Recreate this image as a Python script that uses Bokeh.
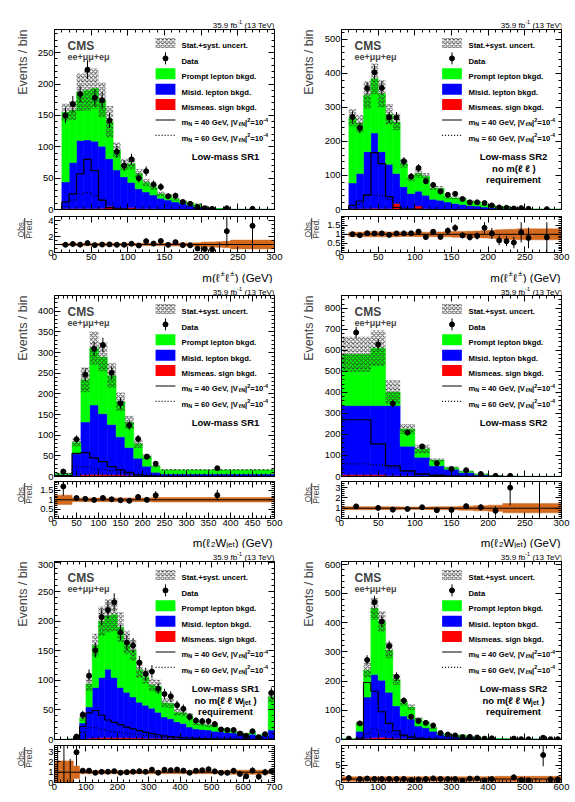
import numpy as np
from math import pi
from bokeh.plotting import figure
from bokeh.models import (Range1d, LinearAxis, Label, Span, SingleIntervalTicker,
                          FixedTicker, CustomJSTickFormatter)
from bokeh.layouts import row, column
from bokeh.embed import file_html
from bokeh.resources import INLINE

# ------------------------------------------------------------------
# m(l±l±), low-mass SR1
ll1_edges = [10, 20, 30, 40, 50, 60, 70, 80, 90, 100, 110, 120, 130, 140, 150, 160,
             170, 180, 190, 200, 210, 220, 230, 240, 300]
ll1_prompt = [111, 83, 77, 79, 84, 74, 59, 32, 20, 30, 24, 15, 13, 7, 7, 5, 3, 3, 4,
              1.5, 0.7, 0.5, 0.25, 0.1]
ll1_misid = [42.5, 73.5, 108.5, 109.5, 107.5, 99, 76, 61, 50.5, 40, 31.5, 27, 22, 17.2,
             14.4, 11.5, 9.6, 6.7, 3.8, 2.9, 1.7, 0.95, 0.45, 0.18]
ll1_mismeas = [1.5, 1.5, 1.5, 1.5, 1.5, 2, 5, 2, 1.5, 3, 1.5, 1, 1, 0.8, 0.6, 0.5, 0.4,
               0.3, 0.2, 0.1, 0.1, 0.05, 0.05, 0.02]
ll1_data = [150, 168, 184, 223, 178, 174, 142, 92, 70, 80, 50, 61, 40, 36, 21, 22, 12, 9,
            4, 2, 1, 0, 2, 1]
ll1_unc = [14, 15, 30, 32, 32, 28, 25, 12, 9, 9, 7, 6, 5, 4, 3.5, 3, 2.5, 2, 2, 1.3, 0.8,
           0.5, 0.35, 0.15]
ll1_rband = [0.12, 0.12, 0.15, 0.15, 0.15, 0.15, 0.17, 0.15, 0.15, 0.15, 0.15, 0.15,
             0.15, 0.17, 0.17, 0.18, 0.2, 0.2, 0.22, 0.3, 0.32, 0.35, 0.4, 0.55]
ll1_n40 = [12, 25, 57, 80, 62, 15, 3, 1, 0.5, 0.2, 0, 0, 0, 0, 0, 0, 0, 0, 0, 0, 0, 0, 0, 0]
ll1_n60 = [5, 15, 25, 27, 22, 15, 10, 3, 1, 0.5, 0.2, 0, 0, 0, 0, 0, 0, 0, 0, 0, 0, 0, 0, 0]

# m(l±l±), low-mass SR2
ll2_edges = [10, 20, 30, 40, 50, 60, 70, 80, 90, 100, 110, 120, 130, 140, 150, 160, 170,
             180, 190, 200, 210, 220, 230, 240, 250, 260, 300]
ll2_prompt = [192, 147, 166, 159, 170, 147, 151, 68, 45, 52, 56, 33, 35, 14, 16, 18, 13,
              13, 7, 6.5, 5, 5, 3.5, 1.6, 1.5, 0.7]
ll2_misid = [75, 103, 167, 221, 167, 130, 88, 64, 45, 44, 40, 28.5, 25.5, 21, 17, 14,
             11.2, 9.4, 6.5, 4.6, 3.7, 2.8, 1.8, 1.9, 0.9, 0.45]
ll2_mismeas = [3, 3, 3, 4, 3, 3, 18, 3, 2, 10, 2, 1.5, 1.5, 1, 1, 1, 0.8, 0.6, 0.5, 0.4,
               0.3, 0.2, 0.2, 0.1, 0.1, 0.05]
ll2_data = [272, 240, 356, 403, 357, 271, 270, 142, 97, 122, 83, 72, 53, 43, 46, 31, 21,
            21, 19, 12, 6, 5, 3, 4, 2, 1]
ll2_unc = [25, 25, 40, 45, 40, 30, 25, 12, 9, 12, 9, 6, 6, 4, 4, 4, 3, 3, 2.5, 2.5, 2.3,
           2.2, 1.5, 1.1, 0.8, 0.4]
ll2_rband = [0.12, 0.12, 0.14, 0.14, 0.14, 0.13, 0.13, 0.12, 0.12, 0.13, 0.12, 0.13,
             0.13, 0.14, 0.16, 0.16, 0.17, 0.18, 0.2, 0.22, 0.25, 0.27, 0.28, 0.3, 0.3, 0.3]
ll2_n40 = [12, 25, 42, 167, 135, 38, 6, 1.5, 0.5, 0.2, 0, 0, 0, 0, 0, 0, 0, 0, 0, 0, 0,
           0, 0, 0, 0, 0]
ll2_n60 = [4, 15, 42, 42, 40, 30, 20, 8, 3, 1, 0.5, 0.2, 0, 0, 0, 0, 0, 0, 0, 0, 0, 0, 0,
           0, 0, 0]

# m(l2 Wjet), low-mass SR1
lw1_edges = [0, 40, 60, 80, 100, 120, 140, 160, 180, 200, 220, 240, 500]
lw1_prompt = [2, 27, 102, 138, 137, 118, 85, 61, 35, 23, 15, 10]
lw1_misid = [4.5, 53, 128, 168, 147, 122, 92, 67, 42, 23.5, 9.5, 5.5]
lw1_mismeas = [0.5, 2, 4, 5, 5, 4, 4, 3, 2, 1.5, 0.5, 0.5]
lw1_data = [12, 90, 246, 309, 318, 251, 177, 124, 91, 48, 31, 20]
lw1_unc = [1.8, 10, 30, 40, 35, 30, 22, 16, 10, 6, 3, 2]
lw1_rband = [0.25, 0.1, 0.1, 0.1, 0.1, 0.1, 0.1, 0.1, 0.1, 0.1, 0.12, 0.12]
lw1_n40 = [2, 56, 58, 45, 36, 24, 16, 10, 4, 2, 1, 0.5]
lw1_n60 = [1, 24, 24, 20, 17, 14, 10, 7, 4, 2, 1, 0.5]

# m(l2 Wjet), low-mass SR2
lw2_edges = [0, 40, 60, 80, 100, 120, 140, 160, 180, 200, 220, 240, 300]
lw2_prompt = [243, 272, 64, 82, 40, 27, 8, 6, 3, 1, 0.2, 0.2]
lw2_misid = [330, 330, 333, 141, 89, 50, 34.5, 18.7, 7.8, 2.9, 0.75, 0.28]
lw2_mismeas = [8, 8, 5, 3, 2, 1, 0.5, 0.3, 0.2, 0.1, 0.05, 0.02]
lw2_data = [685, 628, 347, 209, 143, 63, 36, 30, 12, 3, 3, 0]
lw2_unc = [84, 85, 56, 24, 20, 8, 5, 4, 3, 1.5, 0.45, 0.22]
lw2_rband = [0.15, 0.14, 0.14, 0.12, 0.12, 0.14, 0.15, 0.2, 0.25, 0.3, 0.45, 0.45]
lw2_n40 = [270, 155, 51, 27, 11, 5, 2, 1, 0.5, 0.2, 0, 0]
lw2_n60 = [60, 55, 40, 25, 15, 8, 4, 2, 1, 0.5, 0.2, 0.1]

# m(l±l± Wjet), low-mass SR1
llw1_edges = list(range(0, 701, 20))
llw1_prompt = [0.05, 0.2, 0.5, 0.7, 8.5, 39, 71, 95, 90, 106, 102, 84, 79, 55, 48, 39,
               44, 24, 26, 16, 18, 19, 10, 9, 8, 10, 5, 5, 3, 2, 2, 3, 1, 2, 56]
llw1_misid = [0.05, 0.1, 0.2, 0.7, 27, 53, 85.5, 102, 116, 102, 85, 77, 69.5, 60.5, 56,
              51, 44, 36.5, 33.5, 28.5, 26, 20, 17, 16, 15, 13.2, 12.2, 11.3, 10.4, 9.5,
              7.5, 8.5, 5.6, 6.6, 15]
llw1_mismeas = [0, 0, 0.1, 0.3, 1, 2, 2.5, 3, 3, 3, 3, 3, 2.5, 2.5, 2, 2, 2, 1.5, 1.5,
                1.5, 1, 1, 1, 1, 1, 0.8, 0.8, 0.7, 0.6, 0.5, 0.5, 0.5, 0.4, 0.4, 1]
llw1_data = [0, 0, 0, 5, 42, 108, 151, 207, 219, 232, 181, 164, 159, 130, 111, 115, 86,
             77, 73, 58, 52, 38, 32, 31, 31, 26, 17, 16, 16, 10, 6, 14, 4, 9, 79]
llw1_unc = [0.11, 0.33, 0.88, 1.0, 5, 12, 20, 25, 28, 28, 25, 20, 18, 14, 12, 11, 11, 8,
            8, 6, 6, 5, 4, 3.5, 3.3, 3.2, 2.5, 2.4, 2, 1.8, 1.5, 1.8, 1.2, 1.4, 9]
llw1_rband = [1.1, 1.1, 1.1, 0.6, 0.15, 0.15, 0.15, 0.15, 0.15, 0.15, 0.15, 0.15, 0.15,
              0.15, 0.15, 0.15, 0.15, 0.15, 0.15, 0.15, 0.15, 0.15, 0.15, 0.15, 0.15,
              0.15, 0.15, 0.15, 0.2, 0.2, 0.2, 0.2, 0.2, 0.2, 0.15]
llw1_n40 = [0, 0, 0, 0.5, 22, 45, 49, 41, 33, 29, 25, 21, 18, 15, 12, 10, 8, 6, 5, 4, 3,
            2.5, 2, 1.5, 1.2, 1, 0.8, 0.6, 0.5, 0.4, 0.3, 0.3, 0.2, 0.2, 0.5]
llw1_n60 = [0, 0, 0, 0.3, 12, 20, 20, 17, 15, 13, 12, 10, 9, 8, 7, 6, 5, 4, 3.5, 3, 2.5,
            2, 1.7, 1.4, 1.2, 1, 0.8, 0.7, 0.6, 0.5, 0.4, 0.3, 0.3, 0.2, 0.5]

# m(l±l± Wjet), low-mass SR2
llw2_edges = [0] + list(range(40, 601, 20))
llw2_prompt = [1.3, 27, 92, 226, 201, 143, 90, 47, 41, 24, 17, 12, 3, 4, 4, 7, 2, 1.5,
               1.5, 1, 0.8, 0.7, 0.5, 0.4, 0.4, 0.4, 0.35, 0.3, 0.3]
llw2_misid = [0.8, 26, 141, 216, 195, 157, 111, 77, 68, 44, 38.5, 27, 17.2, 12.4, 9.5,
              7.6, 5.7, 4.2, 3.3, 2.8, 2.1, 1.7, 1.4, 0.9, 1.1, 1.0, 0.35, 0.75, 0.75]
llw2_mismeas = [0.2, 2, 4, 6, 8, 5, 4, 3, 2, 2, 1.5, 1, 0.8, 0.6, 0.5, 0.4, 0.3, 0.3,
                0.2, 0.2, 0.1, 0.1, 0.1, 0.1, 0.1, 0.1, 0.05, 0.05, 0.05]
llw2_data = [3, 55, 272, 470, 404, 320, 215, 133, 78, 63, 57, 48, 22, 17, 14, 8, 9, 7, 3,
             4, 0, 0, 3, 1, 1, 0, 6, 1, 1]
llw2_unc = [0.5, 6, 25, 38, 35, 27, 18, 11, 10, 6, 5, 4, 2.5, 2, 1.8, 1.8, 1.2, 1, 0.9,
            0.8, 0.6, 0.6, 0.5, 0.4, 0.5, 0.5, 0.3, 0.4, 0.4]
llw2_rband = [0.65, 0.65, 0.65, 0.65, 0.65, 0.65, 0.65, 0.65, 0.65, 0.65, 0.65, 0.65,
              0.65, 0.65, 0.65, 0.65, 0.65, 0.65, 0.7, 0.7, 0.8, 0.8, 0.8, 0.8, 0.8, 0.8,
              0.8, 0.8, 0.8]
llw2_n40 = [0, 5, 195, 165, 95, 55, 30, 15, 8, 4, 2, 1, 0.5, 0.3, 0.2, 0.1, 0, 0, 0, 0,
            0, 0, 0, 0, 0, 0, 0, 0, 0]
llw2_n60 = [0, 3, 20, 35, 30, 25, 18, 12, 8, 5, 3, 2, 1, 0.5, 0.3, 0.2, 0.1, 0, 0, 0, 0,
            0, 0, 0, 0, 0, 0, 0, 0]

# ------------------------------------------------------------------
FONT = "Liberation Sans"
GREEN, BLUE, RED = "#00ff00", "#0000ff", "#ff0000"
BAND = "#d2691e"
HATCH = "#333333"

# advance widths (em) of Liberation Sans, used to place super/subscript pieces
W_REG = dict.fromkeys("0123456789", 0.556)
W_REG.update({" ": 0.278, ".": 0.278, "(": 0.333, ")": 0.333, "m": 0.833, "G": 0.778,
              "e": 0.556, "V": 0.667, "W": 0.944, "j": 0.222, "t": 0.278, "N": 0.722,
              "T": 0.611, "f": 0.278, "b": 0.556, "-": 0.333, "±": 0.584, "ℓ": 0.42,
              "n": 0.556, "o": 0.556, "r": 0.333, "q": 0.556, "u": 0.556, "i": 0.222,
              "=": 0.584, ",": 0.278, "|": 0.26})
W_BOLD = dict.fromkeys("0123456789", 0.556)
W_BOLD.update({" ": 0.278, ".": 0.278, "(": 0.333, ")": 0.333, "m": 0.889, "G": 0.778,
               "e": 0.556, "V": 0.667, "W": 0.944, "j": 0.278, "t": 0.333, "N": 0.722,
               "T": 0.611, "f": 0.333, "b": 0.611, "-": 0.333, "±": 0.584, "ℓ": 0.45,
               "n": 0.611, "o": 0.611, "r": 0.389, "q": 0.611, "u": 0.611, "i": 0.278,
               "=": 0.584, ",": 0.278, "|": 0.28, "+": 0.584, "S": 0.667, "a": 0.556,
               "s": 0.556, "y": 0.556, "c": 0.556, "D": 0.722, "P": 0.667, "p": 0.611,
               "l": 0.278, "k": 0.556, "g": 0.611, "d": 0.611, "M": 0.833, "L": 0.611,
               "w": 0.778, "R": 0.722, "h": 0.611})


def rich(p, parts, x, y, size, align="left", bold=False):
    """Lay out a line of text made of normal / sup / sub pieces, frame-relative px."""
    wt = W_BOLD if bold else W_REG
    sizes = [size * 0.7 if k in ("sup", "sub") else size for _, k in parts]
    widths = [sum(wt.get(c, 0.556) for c in t) * s for (t, _), s in zip(parts, sizes)]
    total = sum(widths)
    cx = x - total if align == "right" else (x - total / 2 if align == "center" else x)
    for (t, k), s, w in zip(parts, sizes, widths):
        dy = 0.38 * size if k == "sup" else (-0.2 * size if k == "sub" else 0)
        body = t.lstrip(" ")
        lead = (len(t) - len(body)) * wt[" "] * s  # leading blanks are not rendered
        if body:
            p.add_layout(Label(x=cx + lead, y=y + dy, x_units="screen", y_units="screen",
                               text=body, text_font=FONT, text_font_size=f"{s:.1f}px",
                               text_font_style="bold" if bold else "normal",
                               text_align="left", text_baseline="alphabetic",
                               text_color="black"))
        cx += w


def style_axis(ax, labels):
    ax.axis_line_color = "black"
    ax.major_tick_line_color = "black"
    ax.minor_tick_line_color = "black"
    ax.major_tick_in, ax.major_tick_out = 6, 0
    ax.minor_tick_in, ax.minor_tick_out = 3, 0
    if labels:
        ax.major_label_text_font = FONT
        ax.major_label_text_font_size = "9.5px"
        ax.major_label_text_color = "black"
        ax.major_label_standoff = 1
    else:
        ax.major_label_text_color = None
        ax.major_label_text_font_size = "0px"
        ax.major_label_standoff = 0


def new_fig(w, h, xr, yr, lb, rb, tb, bb, axes=True):
    kw = {} if axes else dict(x_axis_location=None, y_axis_location=None)
    p = figure(width=w, height=h, x_range=Range1d(*xr), y_range=Range1d(*yr),
               output_backend="svg", toolbar_location=None, title=None,
               min_border_left=lb, min_border_right=rb, min_border_top=tb,
               min_border_bottom=bb, **kw)
    p.outline_line_color = "black" if axes else None
    p.xgrid.visible = False
    p.ygrid.visible = False
    p.background_fill_color = "white"
    p.border_fill_color = "white"
    return p


def strip(w, h):
    """Blank pad used to carry the titles that sit around a pad."""
    return new_fig(w, h, (0, w), (0, h), 0, 0, 0, 0, axes=False)


def frame_axes(p, xt, yt, xlabels, ylabels, yfmt=None):
    p.xaxis.ticker = xt
    p.yaxis.ticker = yt
    style_axis(p.xaxis[0], xlabels)
    style_axis(p.yaxis[0], ylabels)
    if yfmt is not None:
        p.yaxis[0].formatter = yfmt
    top = LinearAxis(ticker=xt)
    style_axis(top, False)
    p.add_layout(top, "above")
    rgt = LinearAxis(ticker=yt)
    style_axis(rgt, False)
    p.add_layout(rgt, "right")


SW = 34  # width of the strip carrying the rotated y titles
# column geometry: left border (tick labels), right border, frame width, title x
COLS = [(18, 13, 222, 22), (17, 14, 223, 21)]
# row geometry: top strip, main frame/bottom, ratio top/frame/bottom, bottom strip,
# baselines of the luminosity line and of the x title inside their strips
ROWS = [dict(ts=29, mfh=180, mb=6, rt=1, rfh=36, rb=13, bs=18, lu=4, xt=6),
        dict(ts=12, mfh=181, mb=5, rt=0, rfh=37, rb=12, bs=18, lu=3, xt=6),
        dict(ts=13, mfh=178, mb=6, rt=0, rfh=37, rb=13, bs=7, lu=4, xt=-2)]

T_LL = [("m(ℓ", "n"), ("±", "sup"), ("ℓ", "n"), ("±", "sup"), (") (GeV)", "n")]
T_LW = [("m(ℓ", "n"), ("2", "sub"), ("W", "n"), ("jet", "sub"), (") (GeV)", "n")]
T_LLW = [("m(ℓ", "n"), ("±", "sup"), ("ℓ", "n"), ("±", "sup"), ("W", "n"),
         ("jet", "sub"), (") (GeV)", "n")]

LEGEND = [[("Stat.+syst. uncert.", "n")],
          [("Data", "n")],
          [("Prompt lepton bkgd.", "n")],
          [("Misid. lepton bkgd.", "n")],
          [("Mismeas. sign bkgd.", "n")],
          [("m", "n"), ("N", "sub"), (" = 40 GeV, |V", "n"), ("ℓN", "sub"), ("|", "n"),
           ("2", "sup"), ("=10", "n"), ("-4", "sup")],
          [("m", "n"), ("N", "sub"), (" = 60 GeV, |V", "n"), ("ℓN", "sub"), ("|", "n"),
           ("2", "sup"), ("=10", "n"), ("-4", "sup")]]

ratio_fmt = CustomJSTickFormatter(code="return String(Math.round(tick*100)/100);")
HATCH_KW = dict(hatch_pattern="diagonal_cross", hatch_color=HATCH, hatch_scale=4.2,
                hatch_weight=0.85, hatch_alpha=0.95)


def make_panel(d, col, rw):
    lb, rb, fw, ytx = COLS[col]
    g = ROWS[rw]
    mfh, rfh = g["mfh"], g["rfh"]
    wid = lb + fw + rb
    x0, x1 = d["xr"]
    ymax = d["ymax"]
    edges = np.asarray(d["edges"], float)
    left, right = edges[:-1], edges[1:]
    centers = 0.5 * (left + right)
    prompt = np.asarray(d["prompt"], float)
    misid = np.asarray(d["misid"], float)
    mismeas = np.asarray(d["mismeas"], float)
    total = prompt + misid + mismeas
    data = np.asarray(d["data"], float)
    unc = np.asarray(d["unc"], float)

    # ---------------- main pad ----------------
    pm = new_fig(wid, mfh + g["mb"], (x0, x1), (0, ymax), lb, rb, 0, g["mb"])
    frame_axes(pm, SingleIntervalTicker(interval=d["xtick"], num_minor_ticks=5),
               SingleIntervalTicker(interval=d["ytick"], num_minor_ticks=5), False, True)

    pm.quad(left=left, right=right, bottom=0, top=mismeas, fill_color=RED,
            line_color=RED, line_width=0.5)
    pm.quad(left=left, right=right, bottom=mismeas, top=mismeas + misid,
            fill_color=BLUE, line_color=BLUE, line_width=0.5)
    pm.quad(left=left, right=right, bottom=mismeas + misid, top=total,
            fill_color=GREEN, line_color=GREEN, line_width=0.5)
    pm.quad(left=left, right=right, bottom=np.clip(total - unc, 0, None),
            top=total + unc, fill_alpha=0, line_color=None, **HATCH_KW)

    sx = np.repeat(edges, 2)
    for vals, dash in ((d["n40"], "solid"), (d["n60"], "1 2")):
        sy = np.concatenate([[0.0], np.repeat(np.asarray(vals, float), 2), [0.0]])
        pm.line(sx, sy, line_color="black", line_width=1.2, line_dash=dash)

    err = np.sqrt(data)
    m = data > 0
    pm.segment(x0=centers[m], y0=(data - err)[m], x1=centers[m], y1=(data + err)[m],
               line_color="black", line_width=1)
    pm.scatter(centers[m], data[m], size=5, marker="circle", fill_color="black",
               line_color="black")

    # legend, placed in frame pixels and mapped through the pad's scales
    def dx(s):
        return x0 + s / fw * (x1 - x0)

    def dy(s):
        return ymax * s / mfh

    rows_y = [mfh - (13.5 + 15.4 * i) for i in range(7)]
    gx0, gx1, gxc = dx(102), dx(122), dx(112)
    pm.quad(left=[gx0], right=[gx1], bottom=[dy(rows_y[0] - 5)], top=[dy(rows_y[0] + 5)],
            fill_alpha=0, line_color=None, **HATCH_KW)
    pm.segment(x0=[gxc], y0=[dy(rows_y[1] - 6)], x1=[gxc], y1=[dy(rows_y[1] + 6)],
               line_color="black", line_width=1)
    pm.scatter([gxc], [dy(rows_y[1])], size=5, marker="circle", fill_color="black",
               line_color="black")
    for i, c in ((2, GREEN), (3, BLUE), (4, RED)):
        pm.quad(left=[gx0], right=[gx1], bottom=[dy(rows_y[i] - 5.5)],
                top=[dy(rows_y[i] + 5.5)], fill_color=c, line_color=None)
    pm.line([gx0, gx1], [dy(rows_y[5])] * 2, line_color="black", line_width=1.2)
    pm.line([gx0, gx1], [dy(rows_y[6])] * 2, line_color="black", line_width=1.2,
            line_dash="1 2")
    for i, parts in enumerate(LEGEND):
        rich(pm, parts, 127, rows_y[i] - 2.8, 7.7, bold=True)

    pm.add_layout(Label(x=13, y=mfh - 16, x_units="screen", y_units="screen",
                        text="CMS", text_font=FONT, text_font_size="12px",
                        text_font_style="bold", text_baseline="alphabetic"))
    pm.add_layout(Label(x=13, y=mfh - 27.5, x_units="screen", y_units="screen",
                        text="ee+μμ+eμ", text_font=FONT, text_font_size="9px",
                        text_font_style="bold", text_baseline="alphabetic"))
    for j, parts in enumerate(d["region"]):
        rich(pm, parts, fw - 51, mfh - (124 + 11.5 * j) - 3.4, 9.5, align="center",
             bold=True)

    # ---------------- ratio pad ----------------
    rlo, rhi = d["rr"]
    pr = new_fig(wid, g["rt"] + rfh + g["rb"], (x0, x1), (rlo, rhi), lb, rb, g["rt"],
                 g["rb"])
    frame_axes(pr, SingleIntervalTicker(interval=d["xtick"], num_minor_ticks=5),
               d["rticker"], True, True, ratio_fmt)
    rel = np.asarray(d["rband"], float)
    pr.quad(left=left, right=right, bottom=1 - rel, top=1 + rel, fill_color=BAND,
            line_color=BAND, line_width=0.5)
    pr.add_layout(Span(location=1, dimension="width", line_color="black", line_width=1))
    up = np.where(data > 0, err, 1.84)
    pr.segment(x0=centers, y0=(data - err) / total, x1=centers, y1=(data + up) / total,
               line_color="black", line_width=1)
    pr.scatter(centers[m], (data / total)[m], size=5, marker="circle",
               fill_color="black", line_color="black")

    # ---------------- title strips (their frames line up with the pads) ----------------
    top = strip(wid, g["ts"])
    rich(top, [("35.9 fb", "n"), ("-1", "sup"), (" (13 TeV)", "n")], fw - 1, g["lu"], 8,
         align="right")
    bot = strip(wid, g["bs"])
    rich(bot, d["xtitle"], fw - 4, g["xt"], 11.5, align="right")

    h_all = g["ts"] + mfh + g["mb"] + g["rt"] + rfh + g["rb"] + g["bs"]
    side = strip(SW, h_all)
    side.add_layout(Label(x=ytx, y=h_all - g["ts"], x_units="screen", y_units="screen",
                          text="Events / bin", text_font=FONT, text_font_size="12.5px",
                          angle=pi / 2, text_align="right", text_baseline="middle"))
    yr_mid = h_all - (g["ts"] + mfh + g["mb"] + g["rt"] + 12)
    side.add_layout(Label(x=20, y=yr_mid, x_units="screen", y_units="screen",
                          text="Obs.", text_font=FONT, text_font_size="8.5px",
                          angle=pi / 2, text_align="center", text_baseline="middle"))
    side.add_layout(Label(x=28.5, y=yr_mid, x_units="screen", y_units="screen",
                          text="Pred.", text_font=FONT, text_font_size="8.5px",
                          angle=pi / 2, text_align="center", text_baseline="middle"))
    # fraction bar between the two words (strip data units are pixels)
    side.segment(x0=[24.2], y0=[yr_mid - 10.5], x1=[24.2], y1=[yr_mid + 10.5],
                 line_color="black", line_width=0.8)
    return row(side, column(top, pm, pr, bot))


def plain(*lines):
    return [[(t, "n")] for t in lines]


NO_LLW = [("no m(ℓ ℓ W", "n"), ("jet", "sub"), (" )", "n")]

panels = [
    dict(edges=ll1_edges, prompt=ll1_prompt, misid=ll1_misid, mismeas=ll1_mismeas,
         data=ll1_data, unc=ll1_unc, rband=ll1_rband, n40=ll1_n40, n60=ll1_n60,
         xr=(0, 300), ymax=287, xtick=50, ytick=50, rr=(0, 4.5),
         rticker=SingleIntervalTicker(interval=2, num_minor_ticks=4),
         region=plain("Low-mass SR1"), xtitle=T_LL),
    dict(edges=ll2_edges, prompt=ll2_prompt, misid=ll2_misid, mismeas=ll2_mismeas,
         data=ll2_data, unc=ll2_unc, rband=ll2_rband, n40=ll2_n40, n60=ll2_n60,
         xr=(0, 300), ymax=529, xtick=50, ytick=100, rr=(0, 1.98),
         rticker=SingleIntervalTicker(interval=0.5, num_minor_ticks=5),
         region=plain("Low-mass SR2", "no m(ℓ ℓ )", "requirement"), xtitle=T_LL),
    dict(edges=lw1_edges, prompt=lw1_prompt, misid=lw1_misid, mismeas=lw1_mismeas,
         data=lw1_data, unc=lw1_unc, rband=lw1_rband, n40=lw1_n40, n60=lw1_n60,
         xr=(0, 500), ymax=438, xtick=50, ytick=50, rr=(0, 1.98),
         rticker=SingleIntervalTicker(interval=0.5, num_minor_ticks=5),
         region=plain("Low-mass SR1"), xtitle=T_LW),
    dict(edges=lw2_edges, prompt=lw2_prompt, misid=lw2_misid, mismeas=lw2_mismeas,
         data=lw2_data, unc=lw2_unc, rband=lw2_rband, n40=lw2_n40, n60=lw2_n60,
         xr=(0, 300), ymax=861, xtick=50, ytick=100, rr=(0, 3.6),
         rticker=SingleIntervalTicker(interval=1, num_minor_ticks=5),
         region=plain("Low-mass SR2"), xtitle=T_LW),
    dict(edges=llw1_edges, prompt=llw1_prompt, misid=llw1_misid, mismeas=llw1_mismeas,
         data=llw1_data, unc=llw1_unc, rband=llw1_rband, n40=llw1_n40, n60=llw1_n60,
         xr=(0, 700), ymax=301, xtick=100, ytick=50, rr=(0, 3.6),
         rticker=SingleIntervalTicker(interval=1, num_minor_ticks=5),
         region=[[("Low-mass SR1", "n")], NO_LLW, [("requirement", "n")]],
         xtitle=T_LLW),
    dict(edges=llw2_edges, prompt=llw2_prompt, misid=llw2_misid, mismeas=llw2_mismeas,
         data=llw2_data, unc=llw2_unc, rband=llw2_rband, n40=llw2_n40, n60=llw2_n60,
         xr=(0, 600), ymax=609, xtick=100, ytick=100, rr=(0, 10.8),
         rticker=FixedTicker(ticks=[0, 5], minor_ticks=[1, 2, 3, 4, 6, 7, 8, 9, 10]),
         region=[[("Low-mass SR2", "n")], NO_LLW, [("requirement", "n")]],
         xtitle=T_LLW),
]

grid = column(*[row(make_panel(panels[2 * r], 0, r), make_panel(panels[2 * r + 1], 1, r))
                for r in range(3)])

open("out.html", "w").write(file_html(grid, INLINE))
